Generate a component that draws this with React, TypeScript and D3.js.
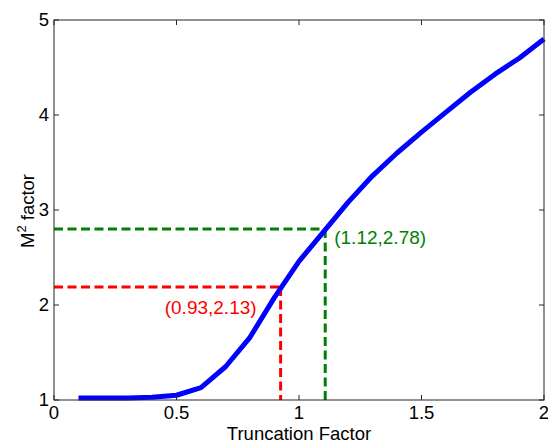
import React from "react";
import * as d3 from "d3";

const truncation = [0.1, 0.2, 0.3, 0.4, 0.5, 0.6, 0.7, 0.8, 0.9, 1.0, 1.1, 1.2, 1.3, 1.4, 1.5, 1.6, 1.7, 1.8, 1.9, 2.0];
const m2 = [1.02, 1.02, 1.02, 1.03, 1.05, 1.13, 1.35, 1.66, 2.08, 2.46, 2.77, 3.08, 3.36, 3.6, 3.82, 4.03, 4.24, 4.43, 4.6, 4.8];
const xTicks = [0, 0.5, 1, 1.5, 2];
const xTickLabels = ["0", "0.5", "1", "1.5", "2"];
const yTicks = [1, 2, 3, 4, 5];
const yTickLabels = ["1", "2", "3", "4", "5"];
const markX = [0.925, 1.107];
const markY = [2.19, 2.8];
const markLabels = ["(0.93,2.13)", "(1.12,2.78)"];
const markColors = ["#ff0000", "#008000"];

const W = 548, H = 444;
const L = 54, R = 544, T = 20, B = 400;
const FONT = "Liberation Sans, Arial, sans-serif";

export default function App() {
  const x = d3.scaleLinear().domain([0, 2]).range([L, R]);
  const y = d3.scaleLinear().domain([1, 5]).range([B, T]);
  const line = d3.line<number>().x((_, i) => x(truncation[i])).y((d) => y(d));
  const axisColor = "#262626";
  const tickLen = 5;
  return (
    <svg width={W} height={H} style={{ position: "absolute", left: 0, top: 0, background: "#fff" }}>
      <rect x={0} y={0} width={W} height={H} fill="#fff" />
      {markX.map((mx, i) => (
        <g key={"m" + i}>
          <line x1={x(0)} x2={x(mx)} y1={y(markY[i])} y2={y(markY[i])} stroke={markColors[i]} strokeWidth={3} strokeDasharray="9,4.5" />
          <line x1={x(mx)} x2={x(mx)} y1={y(markY[i])} y2={y(1)} stroke={markColors[i]} strokeWidth={3} strokeDasharray="9,4.5" />
        </g>
      ))}
      <path d={line(m2) || ""} fill="none" stroke="#0000ff" strokeWidth={5} strokeLinejoin="round" />
      <rect x={L} y={T} width={R - L} height={B - T} fill="none" stroke={axisColor} strokeWidth={1} />
      {xTicks.map((t, i) => (
        <g key={"x" + i}>
          <line x1={x(t)} x2={x(t)} y1={B} y2={B - tickLen} stroke={axisColor} />
          <line x1={x(t)} x2={x(t)} y1={T} y2={T + tickLen} stroke={axisColor} />
          <text x={x(t)} y={419} textAnchor="middle" fontFamily={FONT} fontSize={18.5} fill="#000">{xTickLabels[i]}</text>
        </g>
      ))}
      {yTicks.map((t, i) => (
        <g key={"y" + i}>
          <line x1={L} x2={L + tickLen} y1={y(t)} y2={y(t)} stroke={axisColor} />
          <line x1={R} x2={R - tickLen} y1={y(t)} y2={y(t)} stroke={axisColor} />
          <text x={49} y={y(t)} dy="0.35em" textAnchor="end" fontFamily={FONT} fontSize={18.5} fill="#000">{yTickLabels[i]}</text>
        </g>
      ))}
      <text x={x(markX[0]) - 24} y={314} textAnchor="end" fontFamily={FONT} fontSize={19} fill={markColors[0]}>{markLabels[0]}</text>
      <text x={x(markX[1]) + 9} y={244} textAnchor="start" fontFamily={FONT} fontSize={19} fill={markColors[1]}>{markLabels[1]}</text>
      <text x={299} y={440} textAnchor="middle" fontFamily={FONT} fontSize={18.5} fill="#000">Truncation Factor</text>
      <text transform="translate(34,211) rotate(-90)" textAnchor="middle" fontFamily={FONT} fontSize={18.5} fill="#000">
        M<tspan dy="-8" fontSize={13}>2</tspan><tspan dy="8"> factor</tspan>
      </text>
    </svg>
  );
}
